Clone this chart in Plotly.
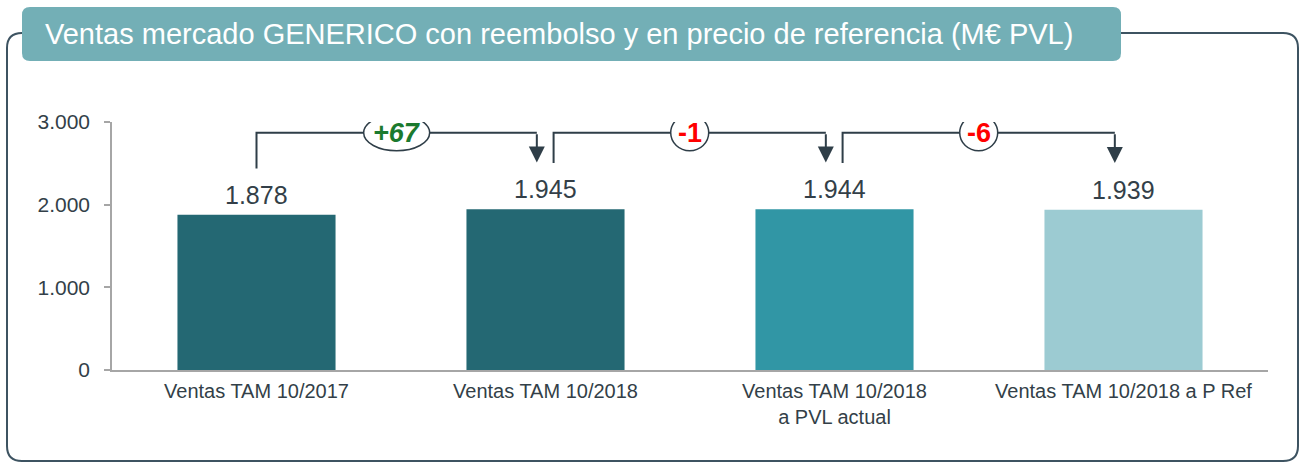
import plotly.graph_objects as go

# ---------------- data ----------------
categories = ["Ventas TAM 10/2017", "Ventas TAM 10/2018",
              "Ventas TAM 10/2018<br>a PVL actual", "Ventas TAM 10/2018 a P Ref"]
values = [1878, 1945, 1944, 1939]
delta_labels = ["+67", "-1", "-6"]
y_ticks = [0, 1000, 2000, 3000]
title_text = "Ventas mercado GENERICO con reembolso y en precio de referencia (M€ PVL)"

# ---------------- style ----------------
bar_colors = ["#246873", "#246873", "#3196a5", "#9ccbd2"]
text_color = "#333f48"
line_color = "#2f3e48"
frame_color = "#3d5361"
title_bg = "#73afb6"
FONT = "Arial, Liberation Sans, sans-serif"

W, H = 1299, 462
L, R, T, B = 112, 31, 122, 92
PW, PH = W - L - R, H - T - B


def xp(px):
    return (px - L) / PW


def yp(py):
    return (H - B - py) / PH


def rounded_rect(x0, y0, x1, y1, r):
    return (f"M {xp(x0 + r)},{yp(y0)} L {xp(x1 - r)},{yp(y0)} "
            f"Q {xp(x1)},{yp(y0)} {xp(x1)},{yp(y0 + r)} "
            f"L {xp(x1)},{yp(y1 - r)} Q {xp(x1)},{yp(y1)} {xp(x1 - r)},{yp(y1)} "
            f"L {xp(x0 + r)},{yp(y1)} Q {xp(x0)},{yp(y1)} {xp(x0)},{yp(y1 - r)} "
            f"L {xp(x0)},{yp(y0 + r)} Q {xp(x0)},{yp(y0)} {xp(x0 + r)},{yp(y0)} Z")


xpos = list(range(len(categories)))

fig = go.Figure()
fig.add_trace(go.Bar(
    x=xpos, y=values, width=0.547,
    marker=dict(color=bar_colors, line=dict(width=0)),
    hoverinfo="skip",
))

shapes = []
annotations = []

# frame and title box
shapes.append(dict(type="path", xref="paper", yref="paper",
                   path=rounded_rect(7, 33, 1298, 461, 15),
                   line=dict(color=frame_color, width=2), fillcolor="rgba(0,0,0,0)",
                   layer="below"))
shapes.append(dict(type="path", xref="paper", yref="paper",
                   path=rounded_rect(22, 7, 1121, 61, 8),
                   line=dict(width=0), fillcolor=title_bg, layer="above"))
annotations.append(dict(xref="paper", yref="paper", x=xp(43), y=yp(34),
                        xanchor="left", yanchor="middle", showarrow=False,
                        text=title_text,
                        font=dict(family=FONT, size=29, color="white")))

# value labels
for i, v in enumerate(values):
    annotations.append(dict(x=i, y=v, xref="x", yref="y", yanchor="bottom",
                            yshift=4, showarrow=False,
                            text=f"{v:,}".replace(",", "."),
                            font=dict(family=FONT, size=25, color=text_color)))

# brackets with arrows and delta labels
BRACKET_Y = 2870
for i, lab in enumerate(delta_labels):
    xs = i + (0 if i == 0 else 0.028)
    xe = i + 1 - 0.03
    ys = values[i] + 560
    ytip = values[i + 1] + 565
    shapes.append(dict(type="path", xref="x", yref="y",
                       path=f"M {xs},{ys} L {xs},{BRACKET_Y} L {xe},{BRACKET_Y}",
                       line=dict(color=line_color, width=2)))
    annotations.append(dict(x=xe, y=ytip, ax=xe, ay=BRACKET_Y, xref="x", yref="y",
                            axref="x", ayref="y", text="", showarrow=True,
                            arrowhead=2, arrowsize=1.6, arrowwidth=2,
                            arrowcolor=line_color, standoff=0))
    xm = (xs + xe) / 2
    positive = lab.startswith("+")
    wpx = 66 if positive else 38
    shapes.append(dict(type="circle", xref="x", yref="y",
                       xsizemode="pixel", ysizemode="pixel",
                       xanchor=xm, yanchor=BRACKET_Y,
                       x0=-wpx / 2, x1=wpx / 2, y0=-18, y1=18,
                       fillcolor="white", line=dict(color=line_color, width=1.5)))
    txt = f"<b><i>{lab}</i></b>" if positive else f"<b>{lab}</b>"
    annotations.append(dict(x=xm, y=BRACKET_Y, xref="x", yref="y",
                            showarrow=False, text=txt, yanchor="middle",
                            font=dict(family=FONT, size=27,
                                      color="#1b7a2e" if positive else "#ff0000")))

fig.update_layout(
    width=W, height=H,
    margin=dict(l=L, r=R, t=T, b=B),
    paper_bgcolor="white", plot_bgcolor="white",
    separators=",.",
    showlegend=False,
    shapes=shapes, annotations=annotations,
    font=dict(family=FONT, color=text_color),
    xaxis=dict(range=[-0.5, 3.5], tickvals=xpos, ticktext=categories,
               tickfont=dict(family=FONT, size=20, color=text_color),
               showline=True, linecolor="#a6a6a6", linewidth=1.5,
               ticks="", showgrid=False, zeroline=False, ticklabelstandoff=2,
               fixedrange=True),
    yaxis=dict(range=[0, 3000], tickvals=y_ticks, tickformat=",d",
               tickfont=dict(family=FONT, size=21, color=text_color),
               showline=True, linecolor="#a6a6a6", linewidth=1.5,
               ticks="outside", ticklen=6, tickcolor="#a6a6a6", tickwidth=1.5,
               showgrid=False, zeroline=False, ticklabelstandoff=10,
               fixedrange=True),
)

fig.write_html("out.html", config={"displayModeBar": False})
